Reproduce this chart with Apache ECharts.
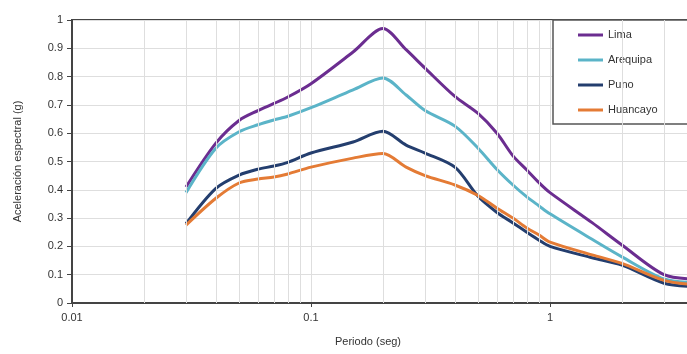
<!DOCTYPE html>
<html>
<head>
<meta charset="utf-8">
<script src="https://cdn.jsdelivr.net/npm/echarts@6/dist/echarts.min.js"></script>
<style>html,body{margin:0;padding:0;background:#fff}#c{width:687px;height:354px}</style>
</head>
<body>
<div id="c"></div>
<script>
const periods  = [0.03,0.04,0.05,0.06,0.07,0.08,0.1,0.15,0.2,0.25,0.3,0.4,0.5,0.6,0.7,0.8,0.9,1,1.5,2,3,4];
const lima     = [0.41,0.565,0.645,0.68,0.705,0.728,0.775,0.887,0.97,0.895,0.83,0.73,0.67,0.60,0.52,0.47,0.425,0.39,0.284,0.205,0.10,0.085];
const arequipa = [0.39,0.547,0.605,0.63,0.647,0.66,0.69,0.753,0.795,0.735,0.68,0.625,0.547,0.472,0.417,0.375,0.343,0.315,0.225,0.163,0.085,0.072];
const puno     = [0.28,0.405,0.452,0.473,0.484,0.497,0.53,0.569,0.607,0.558,0.53,0.48,0.377,0.32,0.283,0.25,0.222,0.2,0.16,0.134,0.07,0.058];
const huancayo = [0.275,0.37,0.424,0.438,0.445,0.456,0.48,0.512,0.528,0.48,0.45,0.417,0.38,0.335,0.30,0.265,0.24,0.215,0.17,0.14,0.08,0.065];
const seriesNames = ['Lima','Arequipa','Puno','Huancayo'];
const seriesValues = [lima, arequipa, puno, huancayo];
const colors = ['#6b2d90','#5bb4c8','#243e6e','#e47b35'];
const minorGrid = [0.02,0.03,0.04,0.05,0.06,0.07,0.08,0.09,0.2,0.3,0.4,0.5,0.6,0.7,0.8,0.9,2,3,4,5,6,7,8,9];

const chart = echarts.init(document.getElementById('c'), null, {renderer:'canvas'});
const font = '"Liberation Sans", Arial, sans-serif';
const series = seriesNames.map((n,i)=>({
  name:n, type:'line', smooth:0.3, symbol:'none', z:3,
  lineStyle:{width:3,color:colors[i]}, itemStyle:{color:colors[i]},
  data: periods.map((p,j)=>[p, seriesValues[i][j]])
}));
series.unshift({
  type:'line', data:[], silent:true, z:1,
  markLine:{silent:true, symbol:'none', label:{show:false},
    lineStyle:{color:'#dedede', width:1, type:'solid'},
    data: minorGrid.map(v=>({xAxis:v}))}
});
chart.setOption({
  animation:false,
  textStyle:{fontFamily:font},
  grid:{left:72, top:20, width:717, height:283, outerBoundsMode:'none', containLabel:false,
        show:true, borderColor:'#444', borderWidth:2, backgroundColor:'transparent'},
  legend:{
    data: seriesNames.map(n=>({name:n, icon:'rect'})),
    orient:'vertical', left:553, top:20,
    itemWidth:25, itemHeight:3, itemGap:13,
    padding:[9,80,8,25],
    backgroundColor:'#fff', borderColor:'#555', borderWidth:1.5,
    textStyle:{fontSize:11, lineHeight:12, color:'#333', fontFamily:font}
  },
  xAxis:{
    type:'log', logBase:10, min:0.01, max:10,
    axisLine:{show:true, lineStyle:{color:'#444', width:2}},
    axisTick:{show:true, length:4, lineStyle:{color:'#444'}},
    axisLabel:{fontSize:11, color:'#333', margin:9},
    splitLine:{show:true, lineStyle:{color:'#dedede', width:1}}
  },
  yAxis:{
    type:'value', min:0, max:1, interval:0.1,
    name:'Aceleración espectral (g)', nameLocation:'middle', nameGap:49,
    nameTextStyle:{fontSize:11, color:'#333'},
    axisLine:{show:true, lineStyle:{color:'#444', width:2}},
    axisTick:{show:true, length:5, lineStyle:{color:'#444'}},
    axisLabel:{fontSize:11, color:'#333', margin:9},
    splitLine:{show:true, lineStyle:{color:'#dedede', width:1}}
  },
  graphic:[{type:'text', left:335, top:336, style:{text:'Periodo (seg)', font:'11px '+font, fill:'#333'}}],
  series: series
});
</script>
</body>
</html>
